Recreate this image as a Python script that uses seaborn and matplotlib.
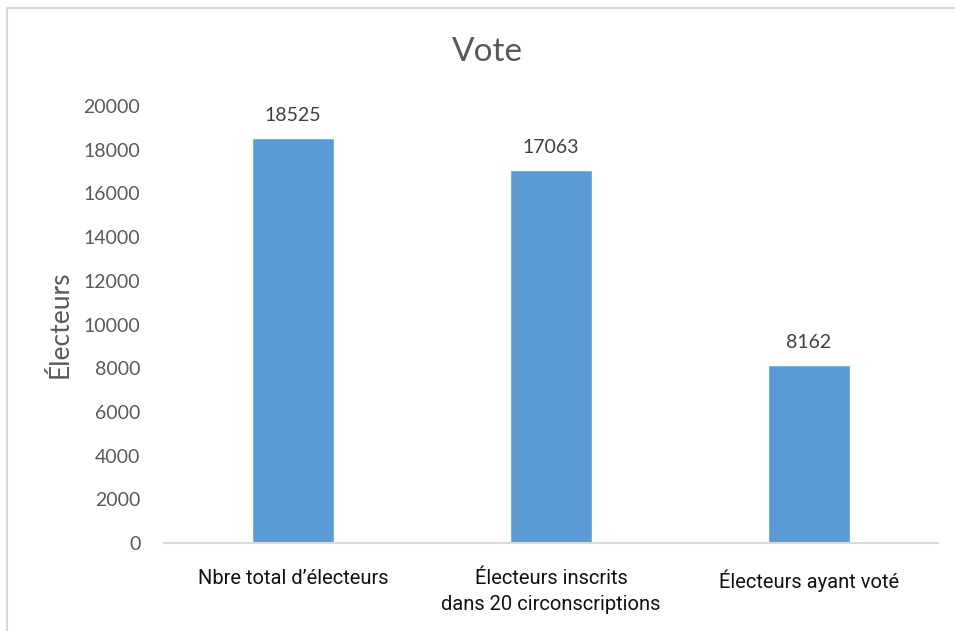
import matplotlib
matplotlib.use('Agg')
import matplotlib.pyplot as plt
from matplotlib.patches import Rectangle
import seaborn as sns

categories = ["Nbre total d\u2019\u00e9lecteurs",
              "\u00c9lecteurs inscrits\ndans 20 circonscriptions",
              "\u00c9lecteurs ayant vot\u00e9"]
values = [18525, 17063, 8162]
y_ticks = [0, 2000, 4000, 6000, 8000, 10000, 12000, 14000, 16000, 18000, 20000]

sns.set_style('white')
plt.rcParams['font.family'] = ['Lato', 'DejaVu Sans']

fig = plt.figure(figsize=(9.55, 6.31), dpi=100)
ax = fig.add_axes([164 / 955, 1 - 543 / 631, 774 / 955, 437 / 631])

sns.barplot(x=categories, y=values, color='#5B9BD5', saturation=1,
            width=0.314, ax=ax)

ax.set_xlim(-0.5, 2.5)
ax.set_ylim(0, 20000)
ax.set_yticks(y_ticks)
ax.set_yticklabels([str(t) for t in y_ticks], fontsize=14, color='#595959')
ax.tick_params(axis='y', length=0, pad=17)
ax.tick_params(axis='x', length=0, pad=19)
for lbl in ax.get_xticklabels():
    lbl.set_fontfamily(['Roboto', 'DejaVu Sans'])
    lbl.set_fontsize(14.5)
    lbl.set_color('#111111')
    lbl.set_linespacing(1.45)

ax.bar_label(ax.containers[0], fmt='%d', padding=10, fontsize=14,
             color='#404040')

ax.set_ylabel('\u00c9lecteurs', fontsize=19, color='#595959', labelpad=8)
ax.set_xlabel('')
sns.despine(ax=ax, left=True)
ax.spines['bottom'].set_color('#d9d9d9')
ax.spines['bottom'].set_linewidth(1.5)

fig.text(487 / 955, 1 - 52 / 631, 'Vote', fontsize=24, color='#595959',
         fontweight='normal', ha='center', va='center')

frame = Rectangle((7 / 955, -0.05), 1.1, 1 - 8 / 631 + 0.05,
                  transform=fig.transFigure, fill=False,
                  edgecolor='#d9d9d9', linewidth=1.5)
fig.patches.append(frame)

fig.savefig('out.png', dpi=100)
